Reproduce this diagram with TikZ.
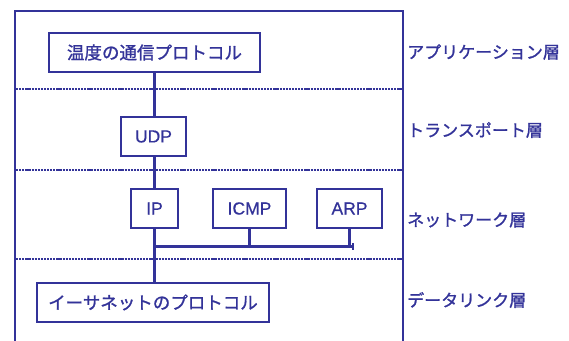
\documentclass[tikz,border=0pt]{standalone}
\usepackage{fontspec}
\setmainfont{Liberation Sans}[FakeBold=0.5]
\newfontfamily\jp{Noto Sans CJK JP}[FakeBold=1.2]
\usetikzlibrary{arrows.meta}
\definecolor{ink}{RGB}{51,51,153}
\begin{document}
\begin{tikzpicture}[x=1pt,y=-1pt,
  box/.style={draw=ink,line width=2pt,fill=white,inner sep=0pt,font=\fontsize{17.5}{17.5}\selectfont,text=ink},
  wire/.style={draw=ink,line width=3pt},
  frame/.style={draw=ink,line width=2pt},
  sep/.style={draw=ink,line width=2pt,dash pattern=on 2.2pt off 0.9pt},
  layer/.style={anchor=west,inner sep=0pt,text=ink,font=\jp\fontsize{17}{17}\selectfont}]
\useasboundingbox (0,0) rectangle (569,340);
% frame
\draw[frame] (15,341) -- (15,11) -- (403,11) -- (403,341);
% layer separators
\draw[sep] (16,89) -- (402,89);
\draw[sep] (16,170) -- (402,170);
\draw[sep] (16,259) -- (402,259);
% boxes
\node[box,minimum width=211pt,minimum height=39pt] (app) at (154.5,52.5) {\jp 温度の通信プロトコル};
\node[box,minimum width=65pt,minimum height=39pt] (udp) at (153.5,136.5) {UDP};
\node[box,minimum width=47pt,minimum height=39pt] (ip) at (154.5,208.5) {IP};
\node[box,minimum width=73pt,minimum height=39pt] (icmp) at (249.5,208.5) {ICMP};
\node[box,minimum width=65pt,minimum height=39pt] (arp) at (349.5,208.5) {ARP};
\node[box,minimum width=232pt,minimum height=39pt] (eth) at (153,302.5) {\jp イーサネットのプロトコル};
\coordinate (busR) at (354,246);
% connectors
\draw[wire] (app.south -| 154,0) -- (udp.north -| 154,0);
\draw[wire] (udp.south -| 154,0) -- (ip.north -| 154,0);
\draw[wire] (ip.south -| 154,0) -- (eth.north -| 154,0);
\draw[wire] (ip.south |- busR) -- (busR);
\draw[wire] (icmp.south) -- (icmp.south |- busR);
\draw[wire] (arp.south) -- (arp.south |- busR);
\draw[draw=ink,line width=2pt] (busR) ++(-1,-3) -- ++(0,7);
% layer labels
\node[layer] (l1) at (407,52) {アプリケーション層};
\node[layer] (l2) at (407,130) {トランスポート層};
\node[layer] (l3) at (407,220) {ネットワーク層};
\node[layer] (l4) at (407,300) {データリンク層};
\end{tikzpicture}
\end{document}
